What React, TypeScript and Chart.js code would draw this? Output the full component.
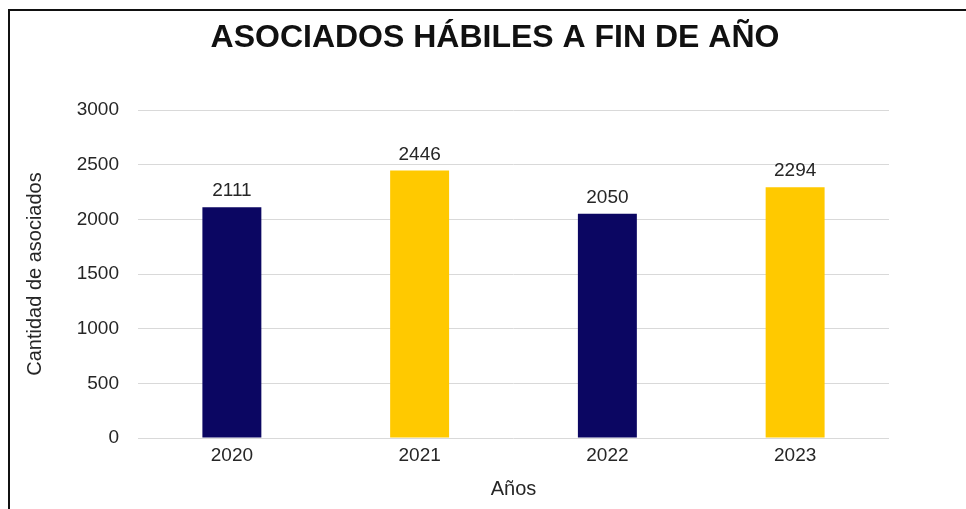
import React, { useEffect, useRef } from "react";
import { Chart, registerables } from "chart.js";

Chart.register(...registerables);

const categories = ["2020", "2021", "2022", "2023"];
const asociados = [2111, 2446, 2050, 2294];
const barColors = ["#0b0662", "#ffc900", "#0b0662", "#ffc900"];
const yMin = 0;
const yMax = 3000;
const yStep = 500;
const titleText = "ASOCIADOS HÁBILES A FIN DE AÑO";
const xTitleText = "Años";
const yTitleText = "Cantidad de asociados";

const FAMILY = "'Liberation Sans', Arial, sans-serif";
const TEXT = "#262626";

const valueLabels = {
  id: "valueLabels",
  afterDatasetsDraw(chart: any) {
    const ctx = chart.ctx;
    const meta = chart.getDatasetMeta(0);
    const data = chart.data.datasets[0].data;
    ctx.save();
    ctx.font = `19px ${FAMILY}`;
    ctx.fillStyle = TEXT;
    ctx.textAlign = "center";
    ctx.textBaseline = "alphabetic";
    meta.data.forEach((el: any, i: number) => {
      ctx.fillText(String(data[i]), el.x, el.y - 11);
    });
    ctx.restore();
  },
};

export default function App() {
  const ref = useRef<HTMLCanvasElement | null>(null);

  useEffect(() => {
    document.documentElement.style.overflow = "hidden";
    document.body.style.overflow = "hidden";
    const canvas = ref.current;
    if (!canvas) return;
    const chart = new Chart(canvas, {
      type: "bar",
      data: {
        labels: categories,
        datasets: [
          {
            data: asociados,
            backgroundColor: barColors,
            borderWidth: 0,
            categoryPercentage: 1,
            barPercentage: 0.314,
          },
        ],
      },
      options: {
        animation: false,
        responsive: false,
        maintainAspectRatio: false,
        layout: { padding: 0 },
        plugins: {
          legend: { display: false },
          tooltip: { enabled: false },
          title: {
            display: true,
            text: titleText,
            color: "#111",
            font: { family: FAMILY, size: 32, weight: "bold" },
            padding: { top: 8, bottom: 52.6 },
          },
        },
        scales: {
          x: {
            grid: { display: false, drawTicks: false },
            border: { display: false },
            ticks: {
              color: TEXT,
              padding: 6,
              font: { family: FAMILY, size: 19 },
            },
            title: {
              display: true,
              text: xTitleText,
              color: TEXT,
              font: { family: FAMILY, size: 20 },
              padding: { top: 0, bottom: 7.5 },
            },
            afterFit: (s: any) => {
              s.height = 71;
            },
          },
          y: {
            min: yMin,
            max: yMax,
            grid: { color: "#d9d9d9", lineWidth: 1, drawTicks: false },
            border: { display: false },
            ticks: {
              stepSize: yStep,
              color: TEXT,
              padding: 19,
              font: { family: FAMILY, size: 19 },
              callback: (v: any) => String(v),
            },
            title: {
              display: true,
              text: yTitleText,
              color: TEXT,
              font: { family: FAMILY, size: 20 },
              padding: { top: 13, bottom: 0 },
            },
            afterFit: (s: any) => {
              s.width = 128;
            },
          },
          y2: {
            type: "linear",
            position: "right",
            display: true,
            grid: { display: false, drawTicks: false },
            border: { display: false },
            ticks: { display: false },
            afterFit: (s: any) => {
              s.width = 91;
            },
          },
        },
      },
      plugins: [valueLabels],
    } as any);
    return () => chart.destroy();
  }, []);

  return (
    <div
      style={{
        position: "fixed",
        left: 8,
        top: 9,
        width: 1000,
        height: 530,
        border: "2px solid #111",
        background: "#fff",
        boxSizing: "border-box",
      }}
    >
      <canvas ref={ref} width={970} height={498} style={{ display: "block" }} />
    </div>
  );
}
